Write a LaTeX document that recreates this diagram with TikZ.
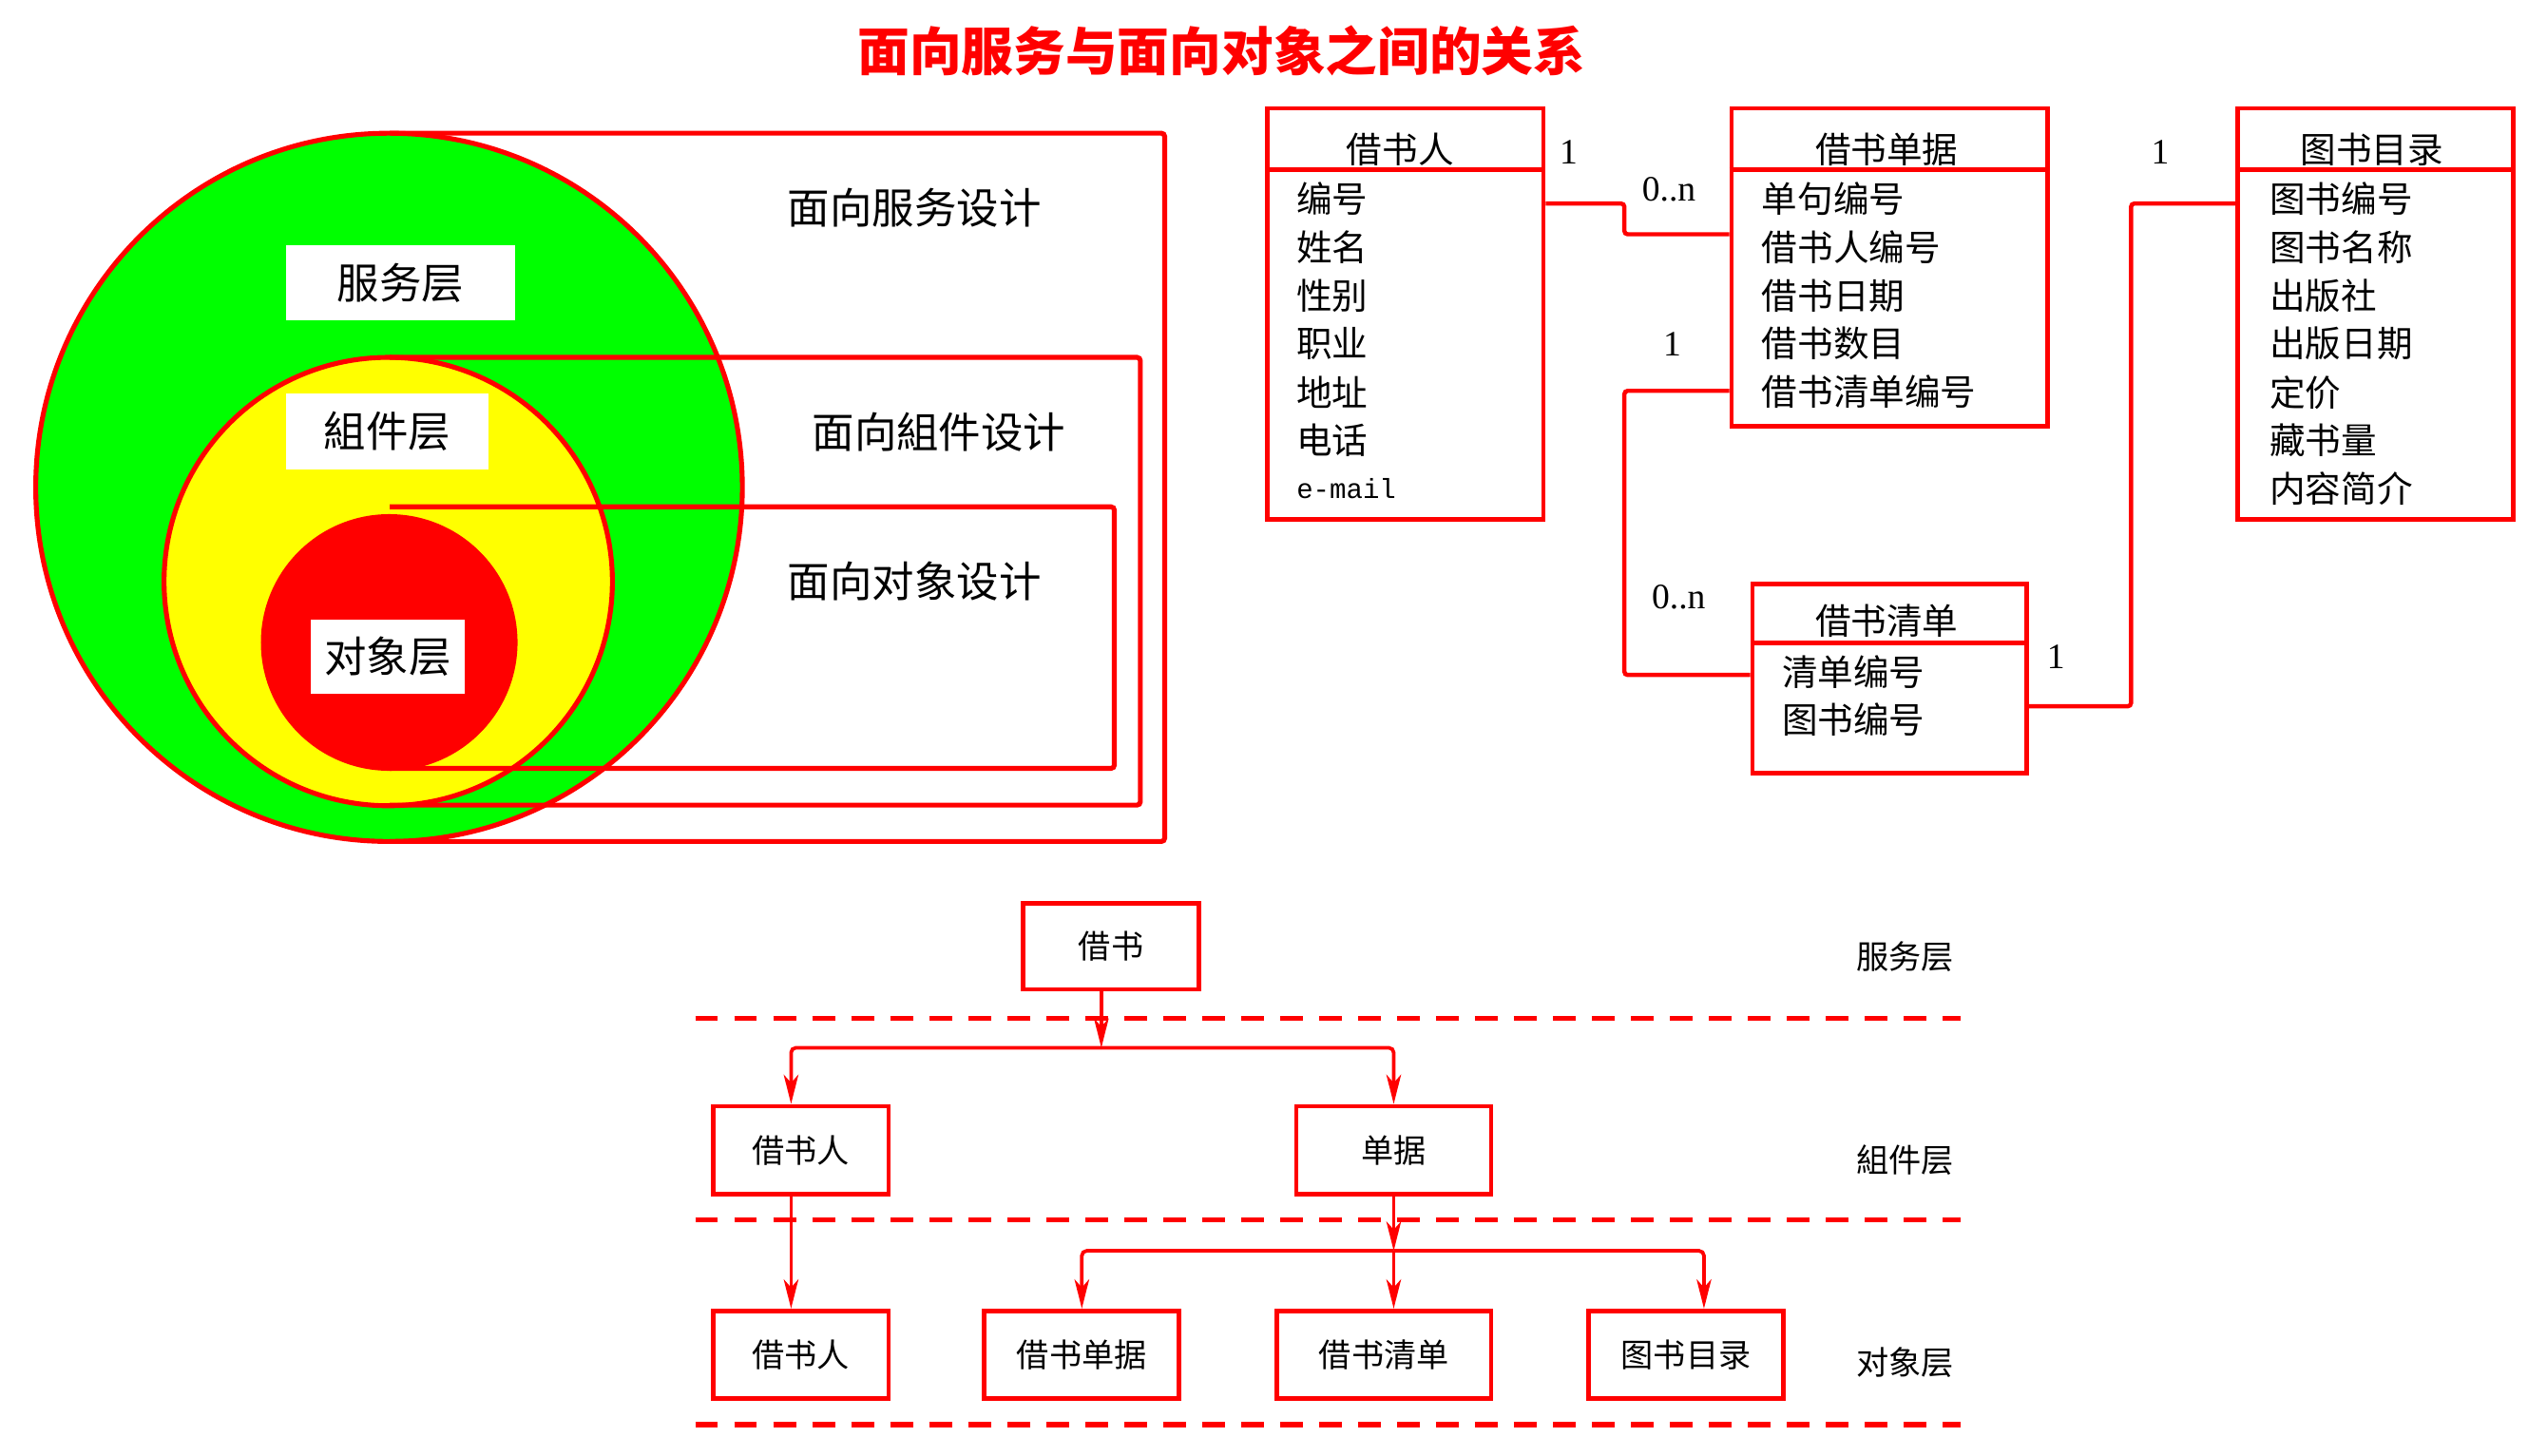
\documentclass[tikz,border=0pt]{standalone}
\usepackage{fontspec}
\setmainfont{Noto Sans CJK SC}
\newfontfamily\numfont{Liberation Serif}
\newfontfamily\mailfont{Liberation Mono}
\usetikzlibrary{arrows.meta}
\definecolor{pureRed}{RGB}{255,0,0}
\definecolor{pureGreen}{RGB}{0,255,0}
\definecolor{pureYellow}{RGB}{255,255,0}
\begin{document}
\begin{tikzpicture}[x=0.5pt,y=-0.5pt,
  bracket/.style={draw=pureRed,line width=1.5pt,rounded corners=1pt},
  layerlbl/.style={fill=white,inner sep=0pt,font=\fontsize{13}{15}\selectfont},
  design/.style={inner sep=0pt,font=\fontsize{13}{15}\selectfont},
  umlbox/.style={draw=pureRed,line width=1.4pt,anchor=north west,inner sep=0pt},
  umldiv/.style={draw=pureRed,line width=1.4pt},
  umltitle/.style={inner sep=0pt,font=\fontsize{11}{13}\selectfont},
  attr/.style={inner sep=0pt,anchor=west,font=\fontsize{11}{13}\selectfont},
  mult/.style={inner sep=0pt,font=\numfont\fontsize{11}{13}\selectfont},
  conn/.style={draw=pureRed,line width=1.3pt,rounded corners=1pt},
  hbox/.style={draw=pureRed,line width=1.4pt,inner sep=0pt,minimum height=27pt,font=\fontsize{10}{12}\selectfont},
  arr/.style={draw=pureRed,line width=1.1pt,rounded corners=1.5pt,-{Stealth[length=9pt,width=4.5pt,inset=2.5pt]}},
  sepline/.style={draw=pureRed,line width=1.5pt,dash pattern=on 7pt off 5pt},
  lvl/.style={inner sep=0pt,font=\fontsize{10}{12}\selectfont},
]
\useasboundingbox (0,0) rectangle (1568,896);

% ---------- title ----------
\node[text=pureRed,font=\bfseries\fontsize{16}{18}\selectfont,inner sep=0pt] (title) at (752,31) {面向服务与面向对象之间的关系};

% ---------- left: nested layers ----------
\draw[pureRed,line width=1.5pt,fill=pureGreen] (239.5,300) ellipse [x radius=108.75pt,y radius=109pt];
\draw[pureRed,line width=1.5pt,fill=pureYellow] (239,358) ellipse [x radius=69pt,y radius=69pt];
\fill[pureRed] (239.6,395.5) circle [radius=39.5pt];

\node[layerlbl,minimum width=70.5pt,minimum height=23pt] (svc) at (246.5,174) {服务层};
\node[layerlbl,minimum width=62.5pt,minimum height=23.5pt] (cmp) at (238.5,265.5) {組件层};
\node[layerlbl,minimum width=47.25pt,minimum height=23pt] (obj) at (238.75,404.25) {对象层};

\draw[bracket] (240,82) -- (717,82) -- (717,518) -- (240,518);
\draw[bracket] (240,220) -- (702,220) -- (702,495.6) -- (240,495.6);
\draw[bracket] (240,312) -- (686,312) -- (686,473) -- (240,473);

\node[design] (dsvc) at (563,128) {面向服务设计};
\node[design] (dcmp) at (578,266) {面向組件设计};
\node[design] (dobj) at (563,358) {面向对象设计};

% ---------- right: class diagram ----------
\node[umlbox,minimum width=85pt,minimum height=126.6pt] (jsr) at (778.7,65.3) {};
\node[umlbox,minimum width=97.3pt,minimum height=97.8pt] (jsdj) at (1064.6,65.3) {};
\node[umlbox,minimum width=84.45pt,minimum height=58.3pt] (jsqd) at (1077.5,357.9) {};
\node[umlbox,minimum width=84.8pt,minimum height=126.6pt] (tsml) at (1376.3,65.3) {};

\draw[umldiv] (778.7,104.5) -- (948.7,104.5);
\draw[umldiv] (1064.6,104.5) -- (1259.2,104.5);
\draw[umldiv] (1077.5,395.9) -- (1246.4,395.9);
\draw[umldiv] (1376.3,104.5) -- (1545.9,104.5);

\node[umltitle] (t1) at (862,92) {借书人};
\node[umltitle] (t2) at (1161.5,92) {借书单据};
\node[umltitle] (t3) at (1161.5,382) {借书清单};
\node[umltitle] (t4) at (1460.2,92) {图书目录};

\node[attr] (a11) at (797.8,122.6) {编号};
\node[attr] (a12) at (797.8,152.3) {姓名};
\node[attr] (a13) at (797.8,182) {性别};
\node[attr] (a14) at (797.8,211.6) {职业};
\node[attr] (a15) at (797.8,241.5) {地址};
\node[attr] (a16) at (797.8,271) {电话};
\node[attr,font=\mailfont\fontsize{8.5}{10}\selectfont] (a17) at (797.8,300.6) {e-mail};

\node[attr] (a21) at (1084.2,122.6) {单句编号};
\node[attr] (a22) at (1084.2,152.3) {借书人编号};
\node[attr] (a23) at (1084.2,182) {借书日期};
\node[attr] (a24) at (1084.2,211.6) {借书数目};
\node[attr] (a25) at (1084.2,241) {借书清单编号};

\node[attr] (a31) at (1096.6,413.5) {清单编号};
\node[attr] (a32) at (1096.6,443) {图书编号};

\node[attr] (a41) at (1396.9,122.6) {图书编号};
\node[attr] (a42) at (1396.9,152.3) {图书名称};
\node[attr] (a43) at (1396.9,182) {出版社};
\node[attr] (a44) at (1396.9,211.6) {出版日期};
\node[attr] (a45) at (1396.9,241.5) {定价};
\node[attr] (a46) at (1396.9,271) {藏书量};
\node[attr] (a47) at (1396.9,300.6) {内容简介};

\coordinate (c1a) at (1000,125.3);
\coordinate (c1b) at (1000,144.2);
\draw[conn] (jsr.east |- c1a) -- (c1a) -- (c1b) -- (jsdj.west |- c1b);
\coordinate (c2a) at (1000,240.6);
\coordinate (c2b) at (1000,415.5);
\draw[conn] (jsdj.west |- c2a) -- (c2a) -- (c2b) -- (jsqd.west |- c2b);
\coordinate (c3a) at (1311.9,434.8);
\coordinate (c3b) at (1311.9,125.3);
\draw[conn] (jsqd.east |- c3a) -- (c3a) -- (c3b) -- (tsml.west |- c3b);

\node[mult] (m1) at (965.6,93.5) {1};
\node[mult] (m2) at (1027.4,116.6) {0..n};
\node[mult] (m3) at (1029.4,211.6) {1};
\node[mult] (m4) at (1033.4,367.7) {0..n};
\node[mult] (m5) at (1265.6,404.1) {1};
\node[mult] (m6) at (1329.9,93.5) {1};

% ---------- bottom: layered hierarchy ----------
\draw[sepline] (428,627) -- (1207,627);
\draw[sepline] (428,751) -- (1207,751);
\draw[sepline] (428,877) -- (1207,877);

\node[hbox,minimum width=54pt,minimum height=26.5pt] (bjs) at (684,582.5) {借书};
\node[hbox,minimum width=54pt] (cjsr) at (493,708) {借书人};
\node[hbox,minimum width=60pt] (cdj) at (858,708) {单据};
\node[hbox,minimum width=54pt] (ojsr) at (493,834) {借书人};
\node[hbox,minimum width=60pt] (ojsdj) at (666,834) {借书单据};
\node[hbox,minimum width=66pt] (ojsqd) at (852,834) {借书清单};
\node[hbox,minimum width=60pt] (otsml) at (1038,834) {图书目录};

\coordinate (b1) at (678,645);
\coordinate (b1l) at (487,645);
\coordinate (b1r) at (858,645);
\draw[arr] (bjs.south -| b1) -- (b1);
\draw[arr] (b1) -- (b1l) -- (cjsr.north -| b1l);
\draw[arr] (b1) -- (b1r) -- (cdj.north -| b1r);
\draw[arr] (cjsr.south -| b1l) -- (ojsr.north -| b1l);

\coordinate (b2) at (858,770);
\coordinate (b2l) at (666,770);
\coordinate (b2r) at (1049,770);
\draw[arr] (cdj.south) -- (b2);
\draw[arr] (b2) -- (b2l) -- (ojsdj.north -| b2l);
\draw[arr] (b2) -- (b2r) -- (otsml.north -| b2r);
\draw[arr] (b2) -- (ojsqd.north -| b2);

\node[lvl] (l1) at (1173,589) {服务层};
\node[lvl] (l2) at (1173,714) {組件层};
\node[lvl] (l3) at (1173,839) {对象层};
\end{tikzpicture}
\end{document}
